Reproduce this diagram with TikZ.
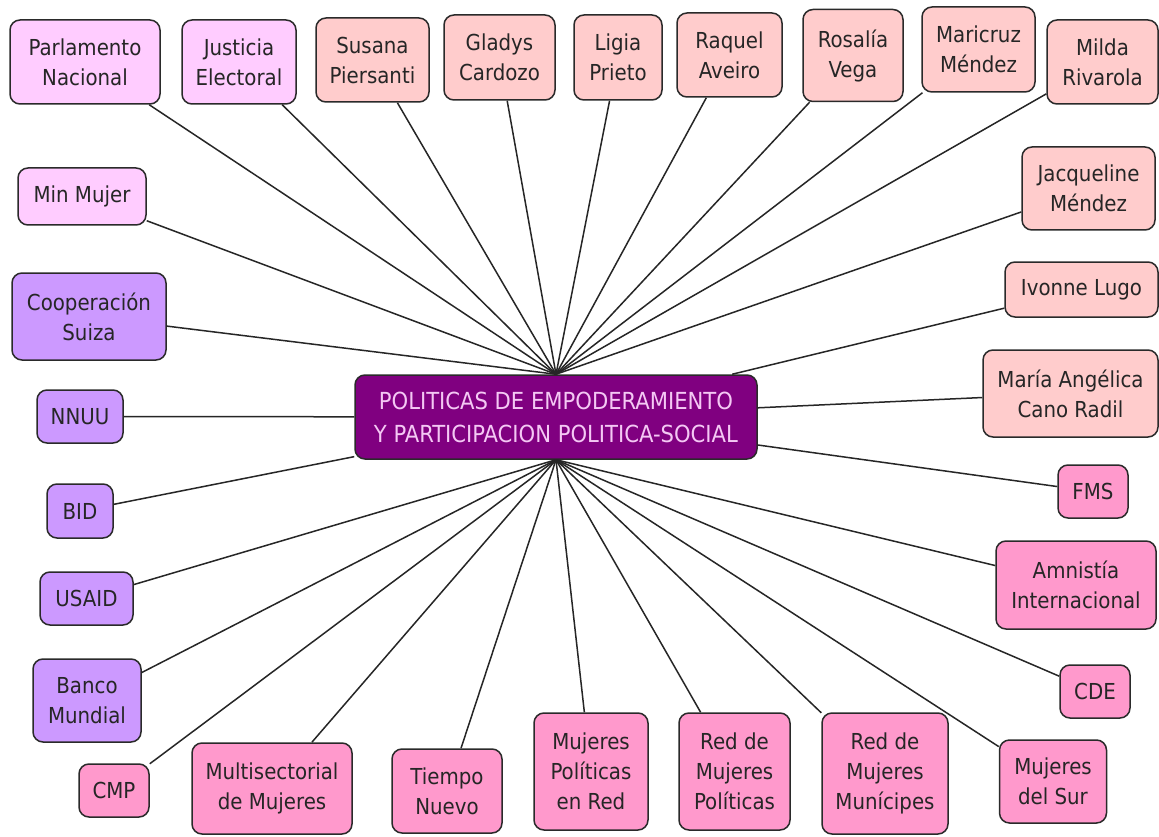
\documentclass[tikz,border=0pt]{standalone}
\usepackage{fontspec}
\setmainfont{DejaVu Sans Condensed}
\definecolor{clpink}{HTML}{FFCCFF}
\definecolor{csalmon}{HTML}{FFCCCC}
\definecolor{clav}{HTML}{CC99FF}
\definecolor{cpink}{HTML}{FF99CC}
\definecolor{chub}{HTML}{800080}
\definecolor{chubtxt}{HTML}{F4C8F4}
\definecolor{cbord}{HTML}{2A2A2A}
\begin{document}
\begin{tikzpicture}[x=1pt,y=-1pt,
  box/.style={draw=cbord, line width=1.5pt, rounded corners=10pt, align=center,
    inner sep=0pt, text=black!85, font=\fontsize{22}{30}\selectfont, fill=#1},
  link/.style={draw=black!85, line width=1.5pt}]
\fill[white] (0,0) rectangle (1159,837);
\useasboundingbox (0,0) rectangle (1159,837);
% hub
\node[box=chub, text=chubtxt, minimum width=402pt, minimum height=84pt,
  font=\fontsize{23.5}{33}\selectfont] (hub) at (556,417)
  {POLITICAS DE EMPODERAMIENTO\\Y PARTICIPACION POLITICA-SOCIAL};
% top row
\node[box=clpink, minimum width=150pt, minimum height=84pt] (parl) at (85,62) {Parlamento\\Nacional};
\node[box=clpink, minimum width=114pt, minimum height=84pt] (just) at (239,62) {Justicia\\Electoral};
\node[box=csalmon, minimum width=113pt, minimum height=84pt] (susa) at (372.5,60) {Susana\\Piersanti};
\node[box=csalmon, minimum width=111pt, minimum height=85pt] (glad) at (499.5,57.5) {Gladys\\Cardozo};
\node[box=csalmon, minimum width=88pt, minimum height=85pt] (ligi) at (618,57.5) {Ligia\\Prieto};
\node[box=csalmon, minimum width=105pt, minimum height=84pt] (raqu) at (729.5,55) {Raquel\\Aveiro};
\node[box=csalmon, minimum width=100pt, minimum height=92pt] (rosa) at (853,55.5) {Rosalía\\Vega};
\node[box=csalmon, minimum width=113pt, minimum height=85pt] (mari) at (978.5,49.5) {Maricruz\\Méndez};
\node[box=csalmon, minimum width=111pt, minimum height=84pt] (mild) at (1102.5,62) {Milda\\Rivarola};
% right column
\node[box=csalmon, minimum width=133pt, minimum height=83pt] (jacq) at (1088.5,188.5) {Jacqueline\\Méndez};
\node[box=csalmon, minimum width=153pt, minimum height=55pt] (ivon) at (1081.5,289.5) {Ivonne Lugo};
\node[box=csalmon, minimum width=175pt, minimum height=87pt] (mang) at (1070.5,393.5) {María Angélica\\Cano Radil};
\node[box=cpink, minimum width=70pt, minimum height=53pt] (fms) at (1093,491.5) {FMS};
\node[box=cpink, minimum width=160pt, minimum height=88pt] (amni) at (1076,585) {Amnistía\\Internacional};
\node[box=cpink, minimum width=70pt, minimum height=53pt] (cde) at (1095,691.5) {CDE};
\node[box=cpink, minimum width=107pt, minimum height=83pt] (msur) at (1053,781.5) {Mujeres\\del Sur};
% bottom row
\node[box=cpink, minimum width=126pt, minimum height=121pt] (rmun) at (885,773.5) {Red de\\Mujeres\\Munícipes};
\node[box=cpink, minimum width=111pt, minimum height=117pt] (rpol) at (734.5,771.5) {Red de\\Mujeres\\Políticas};
\node[box=cpink, minimum width=114pt, minimum height=117pt] (mpol) at (591,771.5) {Mujeres\\Políticas\\en Red};
\node[box=cpink, minimum width=110pt, minimum height=84pt] (tiem) at (447,791) {Tiempo\\Nuevo};
\node[box=cpink, minimum width=160pt, minimum height=91pt] (mult) at (272,788.5) {Multisectorial\\de Mujeres};
\node[box=cpink, minimum width=70pt, minimum height=53pt] (cmp) at (114,790.5) {CMP};
% left column
\node[box=clav, minimum width=108pt, minimum height=83pt] (banc) at (87,700.5) {Banco\\Mundial};
\node[box=clav, minimum width=93pt, minimum height=53pt] (usai) at (86.5,598.5) {USAID};
\node[box=clav, minimum width=66pt, minimum height=54pt] (bid) at (80,511) {BID};
\node[box=clav, minimum width=86pt, minimum height=53pt] (nnuu) at (80,416.5) {NNUU};
\node[box=clav, minimum width=154pt, minimum height=87pt] (coop) at (89,316.5) {Cooperación\\Suiza};
\node[box=clpink, minimum width=128pt, minimum height=57pt] (minm) at (82,196.5) {Min Mujer};
% links to top
\foreach \n in {parl,just,susa,glad,ligi,raqu,rosa,mari,mild,jacq,minm,coop}
  \draw[link] (\n) -- (hub.north);
% links to centre
\foreach \n in {ivon,mang,fms,nnuu,bid}
  \draw[link] (\n) -- (hub);
% links to bottom
\foreach \n in {usai,banc,cmp,mult,tiem,mpol,rpol,rmun,msur,cde,amni}
  \draw[link] (\n) -- (hub.south);
\end{tikzpicture}
\end{document}
